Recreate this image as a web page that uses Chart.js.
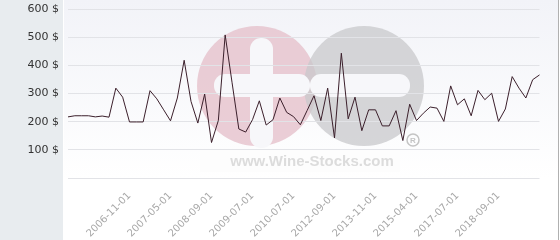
<!DOCTYPE html>
<html>
<head>
<meta charset="utf-8">
<script src="https://cdn.jsdelivr.net/npm/chart.js@4.4.1/dist/chart.umd.min.js"></script>
<style>
  html, body { margin: 0; padding: 0; background: #fff; }
  #wrap { width: 560px; height: 240px; }
</style>
</head>
<body>
<div id="wrap"><canvas id="priceChart" width="560" height="240"></canvas></div>
<script>
'use strict';
// colours kept up here so they are easy to tweak
var lineColor = '#3b1f2b';
var gridColor = '#e2e3e7';
var panelColor = '#e8ecef';

// dates of each price point (only some of them are printed)
var dates = [
  '2006-02-01', '2006-03-01', '2006-04-01', '2006-05-01', '2006-06-01', '2006-07-01',
  '2006-08-01', '2006-09-01', '2006-10-01', '2006-11-01', '2006-12-01', '2007-01-01',
  '2007-02-01', '2007-03-01', '2007-04-01', '2007-05-01', '2007-07-01', '2007-10-01',
  '2008-01-01', '2008-03-01', '2008-06-01', '2008-09-01', '2008-10-01', '2008-12-01',
  '2009-02-01', '2009-04-01', '2009-05-01', '2009-07-01', '2009-09-01', '2009-11-01',
  '2010-01-01', '2010-03-01', '2010-05-01', '2010-07-01', '2010-11-01', '2011-03-01',
  '2011-07-01', '2011-11-01', '2012-04-01', '2012-09-01', '2012-11-01', '2013-01-01',
  '2013-04-01', '2013-06-01', '2013-09-01', '2013-11-01', '2014-02-01', '2014-05-01',
  '2014-08-01', '2014-11-01', '2015-01-01', '2015-04-01', '2015-09-01', '2016-01-01',
  '2016-06-01', '2016-10-01', '2017-02-01', '2017-07-01', '2017-09-01', '2017-12-01',
  '2018-02-01', '2018-04-01', '2018-07-01', '2018-09-01', '2018-12-01', '2019-03-01',
  '2019-06-01', '2019-09-01', '2019-12-01', '2020-03-01'
];
// price in $
var prices = [
  217, 221, 221, 221, 217, 220, 216, 319, 287, 199,
  199, 199, 310, 281, 242, 203, 284, 418, 272, 195,
  298, 126, 204, 508, 340, 174, 163, 207, 274, 188,
  207, 284, 233, 218, 189, 240, 292, 204, 319, 142,
  443, 210, 287, 168, 242, 242, 185, 185, 239, 133,
  262, 204, 230, 252, 248, 201, 327, 260, 281, 221,
  311, 278, 301, 201, 245, 360, 319, 284, 349, 366
];
var yTicks = [0, 100, 200, 300, 400, 500, 600];
var shownDates = ['2006-11-01', '2007-05-01', '2008-09-01', '2009-07-01', '2010-07-01',
  '2012-09-01', '2013-11-01', '2015-04-01', '2017-07-01', '2018-09-01'];

// backgrounds + watermark, painted before the grid
var backdrop = {
  id: 'backdrop',
  beforeDraw: function (chart) {
    var ctx = chart.ctx;
    var a = chart.chartArea;
    ctx.save();
    ctx.fillStyle = '#ffffff';
    ctx.fillRect(0, 0, chart.width, chart.height);
    // left grey panel
    ctx.fillStyle = panelColor;
    ctx.fillRect(0, 0, 63, chart.height);
    // plot area gradient
    var g = ctx.createLinearGradient(0, 0, 0, a.bottom);
    g.addColorStop(0, '#f2f3f8');
    g.addColorStop(1, '#ffffff');
    ctx.fillStyle = g;
    ctx.fillRect(64, 0, 494, a.bottom);
    // right border
    ctx.strokeStyle = '#b0b0b0';
    ctx.lineWidth = 1;
    ctx.beginPath();
    ctx.moveTo(558.5, 0);
    ctx.lineTo(558.5, chart.height);
    ctx.stroke();

    // watermark logo
    ctx.fillStyle = 'rgba(228,190,200,0.75)';
    ctx.beginPath();
    ctx.arc(257, 86, 60, 0, Math.PI * 2);
    ctx.fill();
    ctx.fillStyle = 'rgba(200,200,203,0.75)';
    ctx.beginPath();
    ctx.arc(364, 86, 60, 0, Math.PI * 2);
    ctx.fill();
    ctx.fillStyle = '#f7f7fa';
    // plus sign in pink circle
    ctx.beginPath();
    ctx.roundRect(250, 38, 23, 110, 11);
    ctx.fill();
    ctx.beginPath();
    ctx.roundRect(214, 74, 96, 23, 11);
    ctx.fill();
    // minus sign in grey circle
    ctx.beginPath();
    ctx.roundRect(310, 74, 100, 23, 11);
    ctx.fill();
    // registered mark
    ctx.strokeStyle = 'rgba(190,190,190,0.9)';
    ctx.lineWidth = 1.5;
    ctx.beginPath();
    ctx.arc(413, 140, 6, 0, Math.PI * 2);
    ctx.stroke();
    ctx.fillStyle = 'rgba(190,190,190,0.9)';
    ctx.font = 'bold 8px "Liberation Sans"';
    ctx.textAlign = 'center';
    ctx.textBaseline = 'middle';
    ctx.fillText('R', 413, 140.5);
    // site name
    ctx.fillStyle = 'rgba(252,252,253,0.8)';
    ctx.fillRect(200, 150, 200, 22);
    ctx.fillStyle = '#dcdcdc';
    ctx.font = 'bold 15px "Liberation Sans"';
    ctx.textBaseline = 'alphabetic';
    ctx.fillText('www.Wine-Stocks.com', 312, 166);
    ctx.restore();
  }
};

function makeChart() {
  var ctx = document.getElementById('priceChart');
  return new Chart(ctx, {
    type: 'line',
    data: {
      labels: dates,
      datasets: [{
        label: 'Price',
        data: prices,
        borderColor: lineColor,
        borderWidth: 1,
        pointRadius: 0,
        tension: 0,
        fill: false
      }]
    },
    options: {
      responsive: false,
      animation: false,
      events: [],
      layout: { padding: { left: 0, right: 5, top: 9, bottom: 0 } },
      plugins: { legend: { display: false }, tooltip: { enabled: false } },
      scales: {
        x: {
          offset: false,
          grid: { display: false, drawTicks: false },
          border: { display: false },
          ticks: {
            autoSkip: false,
            maxRotation: 45,
            minRotation: 45,
            padding: 12,
            color: '#a8a8a8',
            font: { family: 'DejaVu Sans', size: 10 },
            callback: function (v, i) {
              return shownDates.indexOf(dates[i]) >= 0 ? dates[i] : '';
            }
          },
          afterFit: function (scale) { scale.height = 62; }
        },
        y: {
          min: yTicks[0],
          max: yTicks[yTicks.length - 1],
          afterBuildTicks: function (scale) {
            scale.ticks = yTicks.map(function (v) { return { value: v }; });
          },
          grid: { color: gridColor, drawTicks: false },
          border: { display: false },
          ticks: {
            padding: 9,
            color: '#333333',
            font: { family: 'DejaVu Sans', size: 11 },
            callback: function (v) { return v === 0 ? '' : v + ' $'; }
          },
          afterFit: function (scale) {
            scale.width = 68;
            scale.paddingTop = 0;
            scale.paddingBottom = 0;
          }
        }
      }
    },
    plugins: [backdrop]
  });
}
makeChart();
</script>
</body>
</html>
